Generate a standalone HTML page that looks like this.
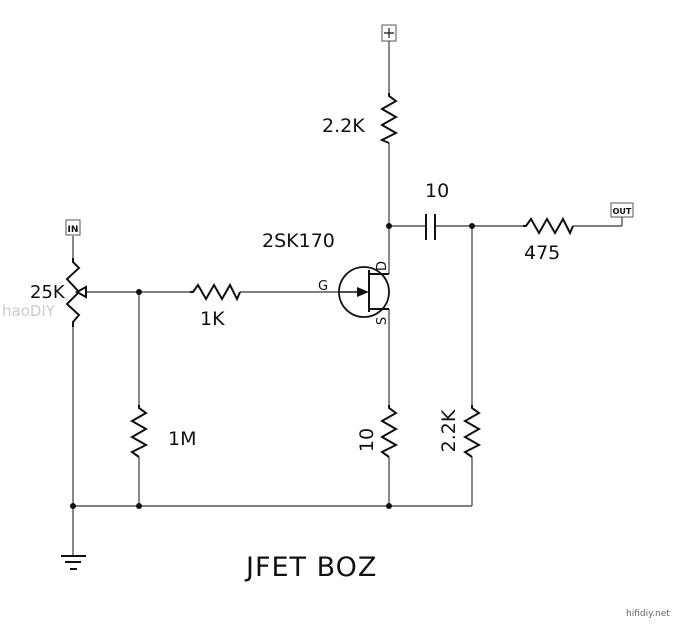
<!DOCTYPE html>
<html><head><meta charset="utf-8"><style>
html,body{margin:0;padding:0;background:#fff;}
svg{display:block;}
text{font-family:"DejaVu Sans","Liberation Sans",sans-serif;fill:#111;}
</style></head><body>
<svg width="680" height="624" viewBox="0 0 680 624" xmlns="http://www.w3.org/2000/svg">
<g stroke="#555" stroke-width="1.4" fill="none">
  <line x1="389" y1="41" x2="389" y2="93"/>
  <line x1="389" y1="143" x2="389" y2="274"/>
  <line x1="389" y1="226" x2="425" y2="226"/>
  <line x1="436" y1="226" x2="523" y2="226"/>
  <line x1="573" y1="226" x2="622" y2="226"/>
  <line x1="622" y1="226" x2="622" y2="217"/>
  <line x1="472" y1="226" x2="472" y2="405"/>
  <line x1="472" y1="457" x2="472" y2="506"/>
  <line x1="389" y1="309" x2="389" y2="405"/>
  <line x1="389" y1="457" x2="389" y2="506"/>
  <line x1="73" y1="506" x2="472" y2="506"/>
  <line x1="73" y1="236" x2="73" y2="258"/>
  <line x1="73" y1="327" x2="73" y2="555"/>
  <line x1="86" y1="292" x2="190" y2="292"/>
  <line x1="240" y1="292" x2="339" y2="292"/>
  <line x1="139" y1="292" x2="139" y2="405"/>
  <line x1="139" y1="457" x2="139" y2="506"/>
</g>
<g stroke="#111" stroke-width="2" fill="none" stroke-linejoin="miter">
  <polyline points="389,93 389,96 396,101 382,109 396,117 382,125 396,133 382,140 389,143"/>
  <polyline points="139,405 139,408 146,413 132,421 146,429 132,437 146,445 132,452 139,457"/>
  <polyline points="389,405 389,408 396,413 382,421 396,429 382,437 396,445 382,452 389,457"/>
  <polyline points="472,405 472,408 479,413 465,421 479,429 465,437 479,445 465,452 472,457"/>
  <polyline points="73,258 73,262 79,268 67,279 79,292 67,304 79,315 73,322 73,327"/>
  <polygon points="77,292 86,287 86,297" fill="#fff"/>
  <polyline points="190,292 193,292 198,285 206,299 214,285 222,299 230,285 237,299 240,292"/>
  <polyline points="523,226 526,226 531,219 539,233 547,219 555,233 563,219 570,233 573,226"/>
  <line x1="426" y1="214" x2="426" y2="240"/>
  <line x1="435" y1="214" x2="435" y2="240"/>
  <circle cx="364" cy="292" r="25" stroke-width="1.8"/>
  <line x1="369" y1="270" x2="369" y2="312"/>
  <line x1="369" y1="274" x2="389" y2="274"/>
  <line x1="369" y1="309" x2="389" y2="309"/>
  <line x1="61" y1="556" x2="86" y2="556"/>
  <line x1="65" y1="562" x2="81" y2="562"/>
  <line x1="70" y1="569" x2="77" y2="569"/>
</g>
<polygon points="369,292 357,287 357,297" fill="#111"/>
<line x1="339" y1="292" x2="358" y2="292" stroke="#111" stroke-width="1.5"/>
<g fill="#111">
  <circle cx="389" cy="226" r="3"/><circle cx="472" cy="226" r="3"/>
  <circle cx="139" cy="292" r="3"/><circle cx="73" cy="506" r="3"/>
  <circle cx="139" cy="506" r="3"/><circle cx="389" cy="506" r="3"/>
</g>
<g fill="#fff" stroke="#555" stroke-width="1">
  <rect x="382" y="25" width="14" height="16"/>
  <rect x="66" y="220" width="14" height="15"/>
  <rect x="611" y="203" width="22" height="14"/>
</g>
<path d="M389 28 V38 M384 33 H394" stroke="#111" stroke-width="1.2"/>
<text x="73" y="232" font-size="9" font-weight="bold" text-anchor="middle">IN</text>
<text x="622" y="214" font-size="8" font-weight="bold" text-anchor="middle">OUT</text>
<g font-size="19">
  <text x="322" y="132">2.2K</text>
  <text x="425" y="197">10</text>
  <text x="524" y="259">475</text>
  <text x="262" y="247">2SK170</text>
  <text x="30" y="298" font-size="18">25K</text>
  <text x="200" y="325">1K</text>
  <text x="168" y="445">1M</text>
  <text transform="translate(373,440) rotate(-90)" text-anchor="middle">10</text>
  <text transform="translate(455,431) rotate(-90)" text-anchor="middle">2.2K</text>
</g>
<text x="318" y="290" font-size="13">G</text>
<text transform="translate(386,266) rotate(-90)" font-size="13" text-anchor="middle">D</text>
<text transform="translate(386,321) rotate(-90)" font-size="13" text-anchor="middle">S</text>
<text x="246" y="576" font-size="27" letter-spacing="1" font-family="Liberation Sans,sans-serif">JFET BOZ</text>
<text x="626" y="616" font-size="9" font-family="Liberation Mono,monospace" style="fill:#666">hifidiy.net</text>
<text x="2" y="316" font-size="15" style="fill:#ccc">haoDIY</text>
</svg>
</body></html>
